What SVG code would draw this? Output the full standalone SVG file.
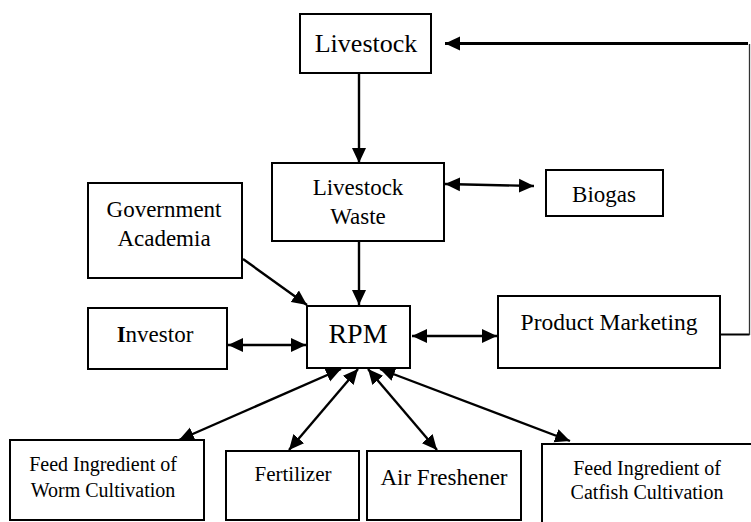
<svg xmlns="http://www.w3.org/2000/svg" width="751" height="522" viewBox="0 0 751 522" font-family="'Liberation Serif', 'Times New Roman', Times, serif">
<style>
.box{fill:#fff;stroke:#000;stroke-width:2}
.t{fill:#000;text-anchor:middle;font-family:'Liberation Serif','Times New Roman',serif}
.c{fill:none;stroke:#000;stroke-width:2.4}
</style>
<defs>
<marker id="ah" markerUnits="userSpaceOnUse" markerWidth="16" markerHeight="15" refX="15" refY="7" orient="auto-start-reverse" viewBox="0 0 16 14">
<path d="M0,0 L15,7 L0,14 z" fill="#000"/>
</marker>
</defs>
<rect width="751" height="522" fill="#fff"/>
<g id="connectors">
<line class="c" x1="359" y1="73" x2="359" y2="163" marker-end="url(#ah)"/>
<line class="c" x1="720" y1="334.5" x2="749.5" y2="334.5" style="stroke-width:2"/>
<line class="c" x1="749.5" y1="44" x2="749.5" y2="335" style="stroke-width:1.3;stroke:#333"/>
<line class="c" x1="748" y1="43.5" x2="445" y2="43.5" style="stroke-width:3" marker-end="url(#ah)"/>
<line class="c" x1="445" y1="184" x2="534" y2="186" marker-start="url(#ah)" marker-end="url(#ah)"/>
<line class="c" x1="243" y1="259" x2="307" y2="305" marker-end="url(#ah)"/>
<line class="c" x1="359" y1="241" x2="359" y2="305" marker-end="url(#ah)"/>
<line class="c" x1="228" y1="345" x2="306" y2="345" marker-start="url(#ah)" marker-end="url(#ah)"/>
<line class="c" x1="412" y1="336" x2="497" y2="336" marker-start="url(#ah)" marker-end="url(#ah)"/>
<line class="c" x1="341" y1="369" x2="179" y2="440" marker-start="url(#ah)" marker-end="url(#ah)"/>
<line class="c" x1="358" y1="369" x2="289" y2="450" marker-start="url(#ah)" marker-end="url(#ah)"/>
<line class="c" x1="368" y1="369" x2="437" y2="450" marker-start="url(#ah)" marker-end="url(#ah)"/>
<line class="c" x1="380" y1="369" x2="570" y2="441" marker-start="url(#ah)" marker-end="url(#ah)"/>
</g>
<g id="livestock">
<rect class="box" x="300" y="14" width="131" height="59"/>
<text class="t" x="366" y="52" font-size="26">Livestock</text>
</g>
<g id="livestock-waste">
<rect class="box" x="272" y="163" width="172" height="78"/>
<text class="t" x="358" y="195" font-size="23">Livestock</text>
<text class="t" x="358" y="224" font-size="23">Waste</text>
</g>
<g id="biogas">
<rect class="box" x="546" y="170" width="117" height="46"/>
<text class="t" x="604" y="202" font-size="23">Biogas</text>
</g>
<g id="government-academia">
<rect class="box" x="88" y="183" width="154" height="95"/>
<text class="t" x="164" y="217" font-size="23">Government</text>
<text class="t" x="164" y="246" font-size="23">Academia</text>
</g>
<g id="rpm">
<rect class="box" x="307" y="306" width="103" height="62"/>
<text class="t" x="358" y="343" font-size="28">RPM</text>
</g>
<g id="investor">
<rect class="box" x="88" y="308" width="139" height="61"/>
<text class="t" x="155" y="342" font-size="23"><tspan font-weight="bold">I</tspan>nvestor</text>
</g>
<g id="product-marketing">
<rect class="box" x="498" y="296" width="222" height="72"/>
<text class="t" x="609" y="330" font-size="23.5">Product Marketing</text>
</g>
<g id="worm">
<rect class="box" x="10" y="440" width="194" height="80"/>
<text class="t" x="103" y="471" font-size="20">Feed Ingredient of</text>
<text class="t" x="103" y="497" font-size="20">Worm Cultivation</text>
</g>
<g id="fertilizer">
<rect class="box" x="226" y="451" width="133" height="69"/>
<text class="t" x="293" y="481" font-size="21">Fertilizer</text>
</g>
<g id="air-freshener">
<rect class="box" x="367" y="451" width="154" height="69"/>
<text class="t" x="444" y="485" font-size="23">Air Freshener</text>
</g>
<g id="catfish">
<rect class="box" x="542" y="444" width="230" height="100"/>
<text class="t" x="647" y="475" font-size="20">Feed Ingredient of</text>
<text class="t" x="647" y="499" font-size="20">Catfish Cultivation</text>
</g>
</svg>
